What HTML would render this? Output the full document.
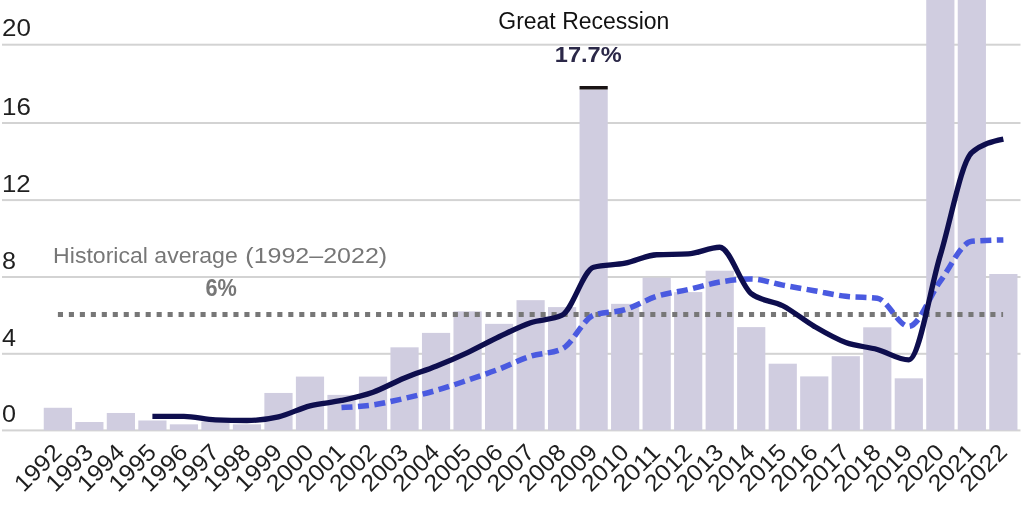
<!DOCTYPE html><html><head><meta charset="utf-8"><style>html,body{margin:0;padding:0;background:#fff;width:1024px;height:512px;overflow:hidden}svg{display:block;will-change:transform}text{font-family:"Liberation Sans",sans-serif}</style></head><body>
<svg width="1024" height="512" viewBox="0 0 1024 512">
<rect x="2" y="43.70" width="1018.5" height="2" fill="#d3d3d3"/>
<rect x="2" y="122.00" width="1018.5" height="2" fill="#d3d3d3"/>
<rect x="2" y="199.10" width="1018.5" height="2" fill="#d3d3d3"/>
<rect x="2" y="276.00" width="1018.5" height="2" fill="#d3d3d3"/>
<rect x="2" y="352.80" width="1018.5" height="2" fill="#d3d3d3"/>
<rect x="2" y="429.40" width="1018.5" height="2" fill="#d3d3d3"/>
<rect x="43.75" y="407.78" width="28.20" height="22.52" fill="#d0cde0"/>
<rect x="75.27" y="422.02" width="28.20" height="8.28" fill="#d0cde0"/>
<rect x="106.78" y="412.98" width="28.20" height="17.32" fill="#d0cde0"/>
<rect x="138.30" y="420.48" width="28.20" height="9.82" fill="#d0cde0"/>
<rect x="169.82" y="424.33" width="28.20" height="5.97" fill="#d0cde0"/>
<rect x="201.34" y="421.64" width="28.20" height="8.66" fill="#d0cde0"/>
<rect x="232.85" y="424.33" width="28.20" height="5.97" fill="#d0cde0"/>
<rect x="264.37" y="392.96" width="28.20" height="37.34" fill="#d0cde0"/>
<rect x="295.89" y="376.59" width="28.20" height="53.71" fill="#d0cde0"/>
<rect x="327.40" y="394.88" width="28.20" height="35.42" fill="#d0cde0"/>
<rect x="358.92" y="376.59" width="28.20" height="53.71" fill="#d0cde0"/>
<rect x="390.44" y="347.33" width="28.20" height="82.97" fill="#d0cde0"/>
<rect x="421.95" y="332.90" width="28.20" height="97.40" fill="#d0cde0"/>
<rect x="453.47" y="311.34" width="28.20" height="118.96" fill="#d0cde0"/>
<rect x="484.99" y="323.85" width="28.20" height="106.45" fill="#d0cde0"/>
<rect x="516.50" y="300.17" width="28.20" height="130.13" fill="#d0cde0"/>
<rect x="548.02" y="307.10" width="28.20" height="123.20" fill="#d0cde0"/>
<rect x="579.54" y="89.58" width="28.20" height="340.72" fill="#d0cde0"/>
<rect x="611.06" y="303.83" width="28.20" height="126.47" fill="#d0cde0"/>
<rect x="642.57" y="277.65" width="28.20" height="152.65" fill="#d0cde0"/>
<rect x="674.09" y="292.09" width="28.20" height="138.21" fill="#d0cde0"/>
<rect x="705.61" y="270.72" width="28.20" height="159.58" fill="#d0cde0"/>
<rect x="737.12" y="327.12" width="28.20" height="103.18" fill="#d0cde0"/>
<rect x="768.64" y="363.69" width="28.20" height="66.61" fill="#d0cde0"/>
<rect x="800.16" y="376.40" width="28.20" height="53.90" fill="#d0cde0"/>
<rect x="831.67" y="356.19" width="28.20" height="74.11" fill="#d0cde0"/>
<rect x="863.19" y="327.31" width="28.20" height="102.99" fill="#d0cde0"/>
<rect x="894.71" y="378.32" width="28.20" height="51.98" fill="#d0cde0"/>
<rect x="926.23" y="-5.00" width="28.20" height="435.30" fill="#d0cde0"/>
<rect x="957.74" y="-5.00" width="28.20" height="435.30" fill="#d0cde0"/>
<rect x="989.26" y="273.99" width="28.20" height="156.31" fill="#d0cde0"/>
<rect x="579.54" y="86" width="28.20" height="3.5" fill="#1a1414"/>
<line x1="57.9" y1="314.5" x2="1003.1" y2="314.5" stroke="#777777" stroke-width="5" stroke-dasharray="5.1 5.87"/>
<path d="M341.50,407.59C352.01,407.01,362.51,406.43,373.02,404.89C383.53,403.35,394.03,400.75,404.54,398.35C415.04,395.94,425.55,393.47,436.05,390.45C446.56,387.44,457.07,383.81,467.57,380.25C478.08,376.69,488.58,373.10,499.09,369.09C509.59,365.07,520.10,359.56,530.61,356.19C541.11,352.82,551.62,353.75,562.12,348.87C572.63,344.00,583.13,318.91,593.64,315.19C604.14,311.46,614.65,312.75,625.16,309.60C635.66,306.46,646.17,299.66,656.67,296.32C667.18,292.98,677.68,291.96,688.19,289.58C698.70,287.21,709.20,283.84,719.71,282.08C730.21,280.31,740.72,279.00,751.22,279.00C761.73,279.00,772.24,283.20,782.74,285.15C793.25,287.11,803.75,288.88,814.26,290.74C824.76,292.60,835.27,295.07,845.77,296.32C856.28,297.57,866.79,296.96,877.29,298.25C887.80,299.53,898.30,326.35,908.81,326.35C919.31,326.35,929.82,295.29,940.33,281.11C950.83,266.93,961.34,242.16,971.84,241.27C982.35,240.37,992.85,240.14,1003.36,239.92" fill="none" stroke="#4a5ae0" stroke-width="5.5" stroke-dasharray="11 5.5"/>
<path d="M152.40,416.44C162.91,416.44,173.41,416.44,183.92,416.44C194.42,416.44,204.93,419.52,215.44,419.91C225.94,420.29,236.45,420.48,246.95,420.48C257.46,420.48,267.96,419.26,278.47,416.82C288.97,414.39,299.48,408.58,309.99,405.85C320.49,403.13,331.00,402.74,341.50,400.46C352.01,398.18,362.51,395.94,373.02,392.19C383.53,388.43,394.03,382.27,404.54,377.94C415.04,373.61,425.55,370.43,436.05,366.20C446.56,361.96,457.07,357.44,467.57,352.53C478.08,347.62,488.58,341.72,499.09,336.75C509.59,331.77,520.10,326.29,530.61,322.69C541.11,319.10,551.62,320.19,562.12,315.19C572.63,310.18,583.13,269.95,593.64,267.25C604.14,264.56,614.65,265.30,625.16,263.21C635.66,261.12,646.17,255.25,656.67,254.74C667.18,254.23,677.68,254.48,688.19,253.97C698.70,253.46,709.20,247.23,719.71,247.23C730.21,247.23,740.72,285.54,751.22,293.62C761.73,301.71,772.24,300.30,782.74,305.75C793.25,311.21,803.75,320.22,814.26,326.35C824.76,332.48,835.27,338.67,845.77,342.52C856.28,346.37,866.79,346.56,877.29,349.45C887.80,352.34,898.30,359.85,908.81,359.85C919.31,359.85,929.82,289.68,940.33,255.13C950.83,220.57,961.34,161.51,971.84,152.52C982.35,143.54,992.85,141.29,1003.36,139.05" fill="none" stroke="#0e0e4e" stroke-width="5.3"/>
<text x="53.14" y="262.80" font-size="22.50" fill="#777" textLength="184.58" lengthAdjust="spacingAndGlyphs">Historical average</text>
<text x="245.32" y="262.80" font-size="22.30" fill="#777" textLength="141.83" lengthAdjust="spacingAndGlyphs">(1992–2022)</text>
<text x="205.50" y="296.10" font-size="23.00" font-weight="bold" fill="#777" textLength="31.41" lengthAdjust="spacingAndGlyphs">6%</text>
<text x="498.30" y="28.90" font-size="23.00" fill="#111" textLength="171.11" lengthAdjust="spacingAndGlyphs">Great Recession</text>
<text x="554.82" y="61.80" font-size="22.50" font-weight="bold" fill="#2b2848" textLength="66.83" lengthAdjust="spacingAndGlyphs">17.7%</text>
<text x="2.00" y="35.90" font-size="23.50" fill="#1f1f1f" textLength="28.90" lengthAdjust="spacingAndGlyphs">20</text>
<text x="2.00" y="115.00" font-size="23.50" fill="#1f1f1f" textLength="28.90" lengthAdjust="spacingAndGlyphs">16</text>
<text x="2.00" y="191.90" font-size="23.50" fill="#1f1f1f" textLength="28.70" lengthAdjust="spacingAndGlyphs">12</text>
<text x="1.90" y="269.20" font-size="23.50" fill="#1f1f1f" textLength="14.00" lengthAdjust="spacingAndGlyphs">8</text>
<text x="2.00" y="345.60" font-size="23.50" fill="#1f1f1f" textLength="14.00" lengthAdjust="spacingAndGlyphs">4</text>
<text x="1.90" y="421.90" font-size="23.50" fill="#1f1f1f" textLength="14.00" lengthAdjust="spacingAndGlyphs">0</text>
<text transform="translate(62.95,453.80) rotate(-45)" text-anchor="end" font-size="23.5" textLength="55.5" lengthAdjust="spacingAndGlyphs" fill="#1f1f1f">1992</text>
<text transform="translate(94.47,453.80) rotate(-45)" text-anchor="end" font-size="23.5" textLength="55.5" lengthAdjust="spacingAndGlyphs" fill="#1f1f1f">1993</text>
<text transform="translate(125.98,453.80) rotate(-45)" text-anchor="end" font-size="23.5" textLength="55.5" lengthAdjust="spacingAndGlyphs" fill="#1f1f1f">1994</text>
<text transform="translate(157.50,453.80) rotate(-45)" text-anchor="end" font-size="23.5" textLength="55.5" lengthAdjust="spacingAndGlyphs" fill="#1f1f1f">1995</text>
<text transform="translate(189.02,453.80) rotate(-45)" text-anchor="end" font-size="23.5" textLength="55.5" lengthAdjust="spacingAndGlyphs" fill="#1f1f1f">1996</text>
<text transform="translate(220.53,453.80) rotate(-45)" text-anchor="end" font-size="23.5" textLength="55.5" lengthAdjust="spacingAndGlyphs" fill="#1f1f1f">1997</text>
<text transform="translate(252.05,453.80) rotate(-45)" text-anchor="end" font-size="23.5" textLength="55.5" lengthAdjust="spacingAndGlyphs" fill="#1f1f1f">1998</text>
<text transform="translate(283.57,453.80) rotate(-45)" text-anchor="end" font-size="23.5" textLength="55.5" lengthAdjust="spacingAndGlyphs" fill="#1f1f1f">1999</text>
<text transform="translate(315.09,453.80) rotate(-45)" text-anchor="end" font-size="23.5" textLength="55.5" lengthAdjust="spacingAndGlyphs" fill="#1f1f1f">2000</text>
<text transform="translate(346.60,453.80) rotate(-45)" text-anchor="end" font-size="23.5" textLength="55.5" lengthAdjust="spacingAndGlyphs" fill="#1f1f1f">2001</text>
<text transform="translate(378.12,453.80) rotate(-45)" text-anchor="end" font-size="23.5" textLength="55.5" lengthAdjust="spacingAndGlyphs" fill="#1f1f1f">2002</text>
<text transform="translate(409.64,453.80) rotate(-45)" text-anchor="end" font-size="23.5" textLength="55.5" lengthAdjust="spacingAndGlyphs" fill="#1f1f1f">2003</text>
<text transform="translate(441.15,453.80) rotate(-45)" text-anchor="end" font-size="23.5" textLength="55.5" lengthAdjust="spacingAndGlyphs" fill="#1f1f1f">2004</text>
<text transform="translate(472.67,453.80) rotate(-45)" text-anchor="end" font-size="23.5" textLength="55.5" lengthAdjust="spacingAndGlyphs" fill="#1f1f1f">2005</text>
<text transform="translate(504.19,453.80) rotate(-45)" text-anchor="end" font-size="23.5" textLength="55.5" lengthAdjust="spacingAndGlyphs" fill="#1f1f1f">2006</text>
<text transform="translate(535.71,453.80) rotate(-45)" text-anchor="end" font-size="23.5" textLength="55.5" lengthAdjust="spacingAndGlyphs" fill="#1f1f1f">2007</text>
<text transform="translate(567.22,453.80) rotate(-45)" text-anchor="end" font-size="23.5" textLength="55.5" lengthAdjust="spacingAndGlyphs" fill="#1f1f1f">2008</text>
<text transform="translate(598.74,453.80) rotate(-45)" text-anchor="end" font-size="23.5" textLength="55.5" lengthAdjust="spacingAndGlyphs" fill="#1f1f1f">2009</text>
<text transform="translate(630.26,453.80) rotate(-45)" text-anchor="end" font-size="23.5" textLength="55.5" lengthAdjust="spacingAndGlyphs" fill="#1f1f1f">2010</text>
<text transform="translate(661.77,453.80) rotate(-45)" text-anchor="end" font-size="23.5" textLength="55.5" lengthAdjust="spacingAndGlyphs" fill="#1f1f1f">2011</text>
<text transform="translate(693.29,453.80) rotate(-45)" text-anchor="end" font-size="23.5" textLength="55.5" lengthAdjust="spacingAndGlyphs" fill="#1f1f1f">2012</text>
<text transform="translate(724.81,453.80) rotate(-45)" text-anchor="end" font-size="23.5" textLength="55.5" lengthAdjust="spacingAndGlyphs" fill="#1f1f1f">2013</text>
<text transform="translate(756.32,453.80) rotate(-45)" text-anchor="end" font-size="23.5" textLength="55.5" lengthAdjust="spacingAndGlyphs" fill="#1f1f1f">2014</text>
<text transform="translate(787.84,453.80) rotate(-45)" text-anchor="end" font-size="23.5" textLength="55.5" lengthAdjust="spacingAndGlyphs" fill="#1f1f1f">2015</text>
<text transform="translate(819.36,453.80) rotate(-45)" text-anchor="end" font-size="23.5" textLength="55.5" lengthAdjust="spacingAndGlyphs" fill="#1f1f1f">2016</text>
<text transform="translate(850.88,453.80) rotate(-45)" text-anchor="end" font-size="23.5" textLength="55.5" lengthAdjust="spacingAndGlyphs" fill="#1f1f1f">2017</text>
<text transform="translate(882.39,453.80) rotate(-45)" text-anchor="end" font-size="23.5" textLength="55.5" lengthAdjust="spacingAndGlyphs" fill="#1f1f1f">2018</text>
<text transform="translate(913.91,453.80) rotate(-45)" text-anchor="end" font-size="23.5" textLength="55.5" lengthAdjust="spacingAndGlyphs" fill="#1f1f1f">2019</text>
<text transform="translate(945.43,453.80) rotate(-45)" text-anchor="end" font-size="23.5" textLength="55.5" lengthAdjust="spacingAndGlyphs" fill="#1f1f1f">2020</text>
<text transform="translate(976.94,453.80) rotate(-45)" text-anchor="end" font-size="23.5" textLength="55.5" lengthAdjust="spacingAndGlyphs" fill="#1f1f1f">2021</text>
<text transform="translate(1008.46,453.80) rotate(-45)" text-anchor="end" font-size="23.5" textLength="55.5" lengthAdjust="spacingAndGlyphs" fill="#1f1f1f">2022</text>
</svg></body></html>
